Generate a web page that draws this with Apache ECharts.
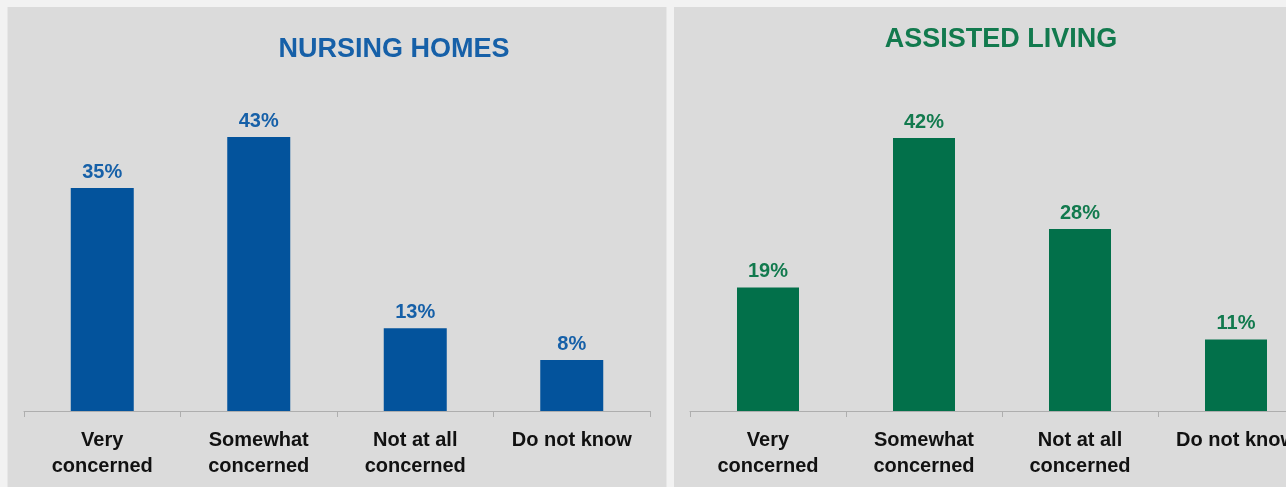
<!DOCTYPE html>
<html>
<head>
<meta charset="utf-8">
<script src="https://cdn.jsdelivr.net/npm/echarts@6/dist/echarts.min.js"></script>
<style>
  html, body { margin: 0; padding: 0; background: #f2f2f2; overflow: hidden; }
  #chart { width: 1330px; height: 487px; }
</style>
</head>
<body>
<div id="chart"></div>
<script>
// Survey responses: level of concern, by setting
const categories = ['Very\nconcerned', 'Somewhat\nconcerned', 'Not at all\nconcerned', 'Do not know'];
const nursingHomes = [35, 43, 13, 8];
const assistedLiving = [19, 42, 28, 11];
const panelTitles = ['NURSING HOMES', 'ASSISTED LIVING'];

const BLUE = '#03539c';
const BLUE_TEXT = '#1660a8';
const GREEN = '#02704a';
const GREEN_TEXT = '#127a4e';
const FONT = '"Liberation Sans", Arial, sans-serif';

const chart = echarts.init(document.getElementById('chart'), null, { renderer: 'canvas' });

function xAxisFor(gridIndex) {
  return {
    type: 'category',
    gridIndex: gridIndex,
    data: categories,
    axisLine: { lineStyle: { color: '#aeaeae', width: 1 } },
    axisTick: { show: true, length: 6, lineStyle: { color: '#aeaeae' } },
    axisLabel: {
      color: '#111',
      fontFamily: FONT,
      fontWeight: 'bold',
      fontSize: 20,
      lineHeight: 26,
      margin: 16,
      interval: 0
    }
  };
}

function yAxisFor(gridIndex) {
  return {
    type: 'value',
    gridIndex: gridIndex,
    min: 0,
    max: 50,
    show: false,
    splitLine: { show: false }
  };
}

function barSeries(idx, data, color, textColor, width) {
  return {
    type: 'bar',
    xAxisIndex: idx,
    yAxisIndex: idx,
    data: data,
    barWidth: width,
    itemStyle: { color: color },
    label: {
      show: true,
      position: 'top',
      distance: 6,
      formatter: '{c}%',
      color: textColor,
      fontFamily: FONT,
      fontWeight: 'bold',
      fontSize: 20
    },
    silent: true,
    animation: false
  };
}

chart.setOption({
  backgroundColor: '#f2f2f2',
  animation: false,
  graphic: [
    { type: 'rect', z: -10, shape: { x: 7.5, y: 7, width: 659, height: 490 }, style: { fill: '#dbdbdb' } },
    { type: 'rect', z: -10, shape: { x: 674, y: 7, width: 660, height: 490 }, style: { fill: '#dbdbdb' } }
  ],
  title: [
    {
      text: panelTitles[0],
      left: 389, top: 31, textAlign: 'center',
      textStyle: { color: BLUE_TEXT, fontFamily: FONT, fontWeight: 'bold', fontSize: 27 }
    },
    {
      text: panelTitles[1],
      left: 996, top: 21, textAlign: 'center',
      textStyle: { color: GREEN_TEXT, fontFamily: FONT, fontWeight: 'bold', fontSize: 27 }
    }
  ],
  grid: [
    { left: 24, width: 626, bottom: 76, height: 318.5, containLabel: false },
    { left: 690, width: 624, bottom: 76, height: 325, containLabel: false }
  ],
  xAxis: [xAxisFor(0), xAxisFor(1)],
  yAxis: [yAxisFor(0), yAxisFor(1)],
  series: [
    barSeries(0, nursingHomes, BLUE, BLUE_TEXT, 63),
    barSeries(1, assistedLiving, GREEN, GREEN_TEXT, 62)
  ]
});
</script>
</body>
</html>
